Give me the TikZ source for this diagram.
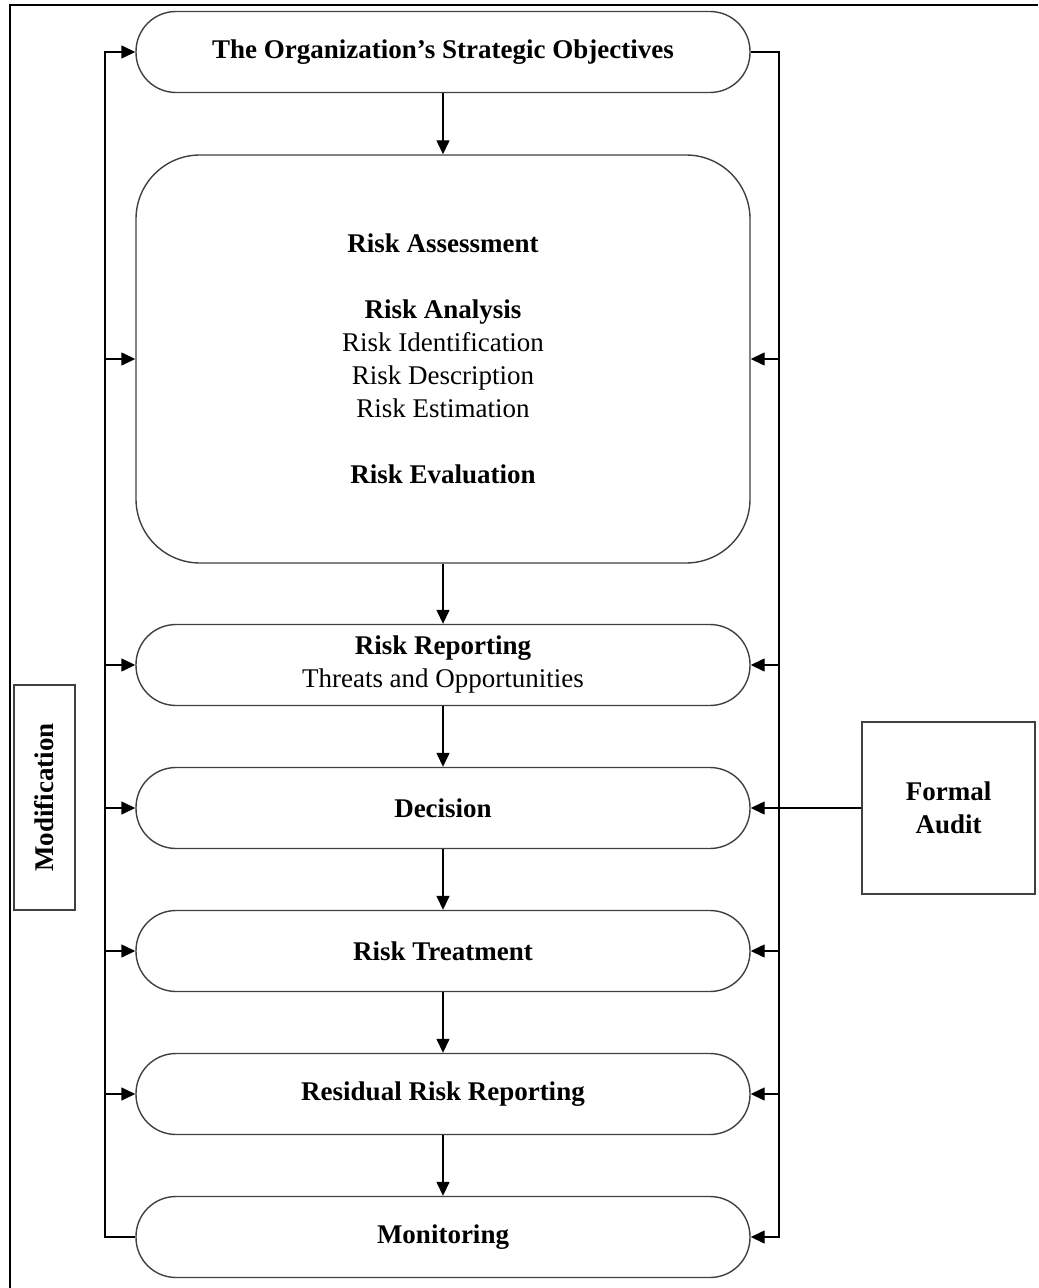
\documentclass[tikz,border=0pt]{standalone}
\usepackage{fontspec}
\setmainfont{Liberation Serif}
\usetikzlibrary{arrows.meta}

\begin{document}
\begin{tikzpicture}[x=0.5pt,y=-0.5pt,
    >={Triangle[length=7pt,width=6.5pt]},
    every node/.style={font=\fontsize{13.5}{16.5}\selectfont},
    stage/.style={rectangle,
          draw = black!75,
          line width = 0.7pt,
          fill = white,
          rounded corners = 20pt,
          minimum width = 307pt,
          minimum height = 40.5pt,
          align = center},
    sidebox/.style={rectangle,
          draw = black!75,
          line width = 0.6pt,
          align = center},
    link/.style={->, line width = 0.7pt}]

    \useasboundingbox (0,0) rectangle (1038,1288);

    % frame
    \draw[line width = 1.2pt] (10,1288) -- (10,5) -- (1038,5);

    \node[stage] (obj) at (443,52) {\textbf{The Organization's Strategic Objectives}};

    \node[stage,
          rounded corners = 32pt,
          minimum height = 204pt
          ] (assess) at (443,359) {\textbf{Risk Assessment}\\[16.5pt]
          \textbf{Risk Analysis}\\
          Risk Identification\\
          Risk Description\\
          Risk Estimation\\[16.5pt]
          \textbf{Risk Evaluation}};

    \node[stage] (report) at (443,665) {\textbf{Risk Reporting}\\Threats and Opportunities};
    \node[stage] (decis) at (443,808) {\textbf{Decision}};
    \node[stage] (treat) at (443,951) {\textbf{Risk Treatment}};
    \node[stage] (resid) at (443,1094) {\textbf{Residual Risk Reporting}};
    \node[stage] (monit) at (443,1237) {\textbf{Monitoring}};

    \node[sidebox,
          rotate = 90,
          minimum width = 112.5pt,
          minimum height = 30.5pt
          ] (modif) at (44.5,797.5) {\textbf{Modification}};

    \node[sidebox,
          minimum width = 86.5pt,
          minimum height = 86pt
          ] (audit) at (948.5,808) {\textbf{Formal}\\\textbf{Audit}};

    \coordinate (lbus) at (105,0);
    \coordinate (rbus) at (779,0);

    % main flow
    \foreach \a/\b in {obj/assess, assess/report, report/decis, decis/treat, treat/resid, resid/monit}
        \draw[link] (\a) -- (\b);

    % feedback on the left
    \draw[link] (monit.west) -- (monit.west -| lbus) -- (obj.west -| lbus) -- (obj.west);
    \foreach \n in {assess, report, decis, treat, resid}
        \draw[link] (\n.west -| lbus) -- (\n.west);

    % feed on the right
    \draw[link] (obj.east) -- (obj.east -| rbus) -- (monit.east -| rbus) -- (monit.east);
    \foreach \n in {assess, report, treat, resid}
        \draw[link] (\n.east -| rbus) -- (\n.east);

    \draw[link] (audit.west) -- (decis.east);

\end{tikzpicture}
\end{document}
